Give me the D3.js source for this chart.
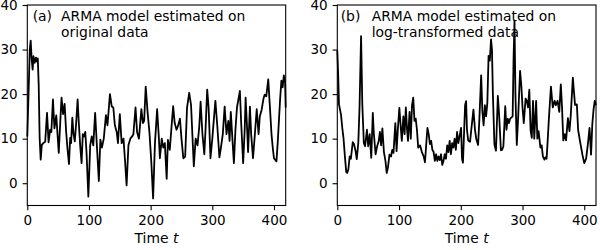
<!DOCTYPE html>
<html>
<head>
<meta charset="utf-8">
<script src="https://cdn.jsdelivr.net/npm/d3@7"></script>
<style>
  body { margin: 0; background: white; }
  svg { font-family: "DejaVu Sans", sans-serif; }
</style>
</head>
<body>
<div id="chart"></div>
<script>
// panel (a): ARMA model estimated on original data
const timeA = [0, 2, 4, 5.5, 7, 8.7, 10, 12, 14, 15.5, 17, 18.5, 20, 21.7, 23.5, 26, 29, 32, 34.5, 37, 39, 41.6, 44, 47, 49, 51, 53, 55.5, 58, 60.5, 63, 65, 67.6, 69.5, 71, 73, 75, 77, 79, 81.6, 83.5, 86, 88, 90, 92, 94, 96, 99, 102, 104.5, 107, 110, 113, 116, 118.5, 121, 124, 127.5, 130, 134, 137, 139.5, 142, 145, 147, 150, 153, 156, 158.5, 161, 164, 167, 170, 172, 175.5, 178, 181, 185, 187.5, 189.5, 192, 195, 198, 201, 204, 207, 210.5, 213, 215, 218, 220.5, 223, 226, 228, 231, 233.5, 236.5, 239, 242, 244, 247.5, 250, 253, 256, 259, 262.5, 265.5, 268.5, 270, 273, 276, 279, 281, 284, 287, 289, 291.7, 294, 297, 300, 302, 305, 308, 311.5, 314, 317, 320, 323, 326, 328, 330, 333, 335, 337.5, 340, 344.7, 347, 350, 352.5, 354, 356.5, 358, 361, 363, 366, 369, 372, 375, 377, 380, 383, 385, 387.5, 390.7, 393, 396, 398, 400, 404, 406, 410, 412, 414, 416, 418, 419];
const valueA = [10.5, 20, 30, 32, 28, 25.5, 28.5, 27, 28.2, 27.3, 28, 22, 10.2, 5.3, 8.6, 9, 9.3, 15.8, 9.2, 12, 11.5, 18.8, 12.3, 15.2, 11, 6.8, 12.5, 19.2, 15.5, 17.8, 11.5, 8, 4.3, 10.2, 9, 14.7, 11, 9.4, 13, 18.8, 13.5, 8, 4.5, 11, 10.5, 11.5, 7, -3, 8.5, 10.5, 8.5, 15.8, 8, 0.5, 9.8, 8, 10, 15.3, 13, 20, 17.2, 17, 13, 11.5, 9, 15.5, 9, 10, 5, -0.5, 8.5, 10, 10.5, 11, 17, 11.5, 10, 16.6, 13.5, 14, 21.7, 16, 11.5, 5, -3.4, 9, 16.6, 11, 5.6, 10, 8, 9, 1, 9.7, 7.5, 12, 17.3, 13.5, 12, 12.7, 14.5, 10, 5.6, 6, 16.9, 20.3, 17.6, 8.4, 3.8, 10, 8.5, 13, 18.3, 11, 6.5, 12, 21, 17, 5.6, 10, 13.5, 18.5, 13, 5.8, 8, 11, 17.2, 11, 14, 9.5, 16, 9, 4.5, 12, 17, 20.7, 13, 4.5, 12, 19.2, 12, 7, 17.2, 11, 5.6, 11, 16.6, 11, 15, 16.5, 19, 19.9, 19.5, 23.3, 18, 11, 8, 5.6, 4.9, 9, 19, 23, 21.5, 24.2, 22.5, 17];

// panel (b): ARMA model estimated on log-transformed data
const timeB = [0, 1.5, 2.7, 6, 8, 10, 12.5, 14.5, 16, 18, 20, 22, 25, 27, 29.5, 31.5, 34, 36, 38.5, 40.5, 43, 45, 48, 50, 52.5, 55, 57.5, 59, 62, 64.5, 67, 69, 71, 73, 75.5, 78, 80, 82, 84.5, 87, 89, 91, 94, 96, 98, 100.5, 102, 104.5, 107, 109, 111, 113, 114.5, 117, 119, 121, 123, 125, 127, 129, 131, 134, 137, 140, 142, 144.6, 146, 148, 150, 152, 154, 156, 158, 160, 162, 164, 166, 168, 170, 172, 174, 176, 178, 180, 182, 184, 186, 188, 190, 192, 194, 196, 198, 200.5, 202, 203.5, 205.5, 207, 208.6, 210, 212, 215, 217, 220.5, 223, 225, 228, 230, 233, 235, 237, 239, 241, 243, 245, 247, 249, 250.5, 252, 254.5, 257, 260, 262, 265, 267, 269, 272, 274, 276, 278, 280, 284, 285.5, 287, 288.5, 290.7, 293, 296, 298, 300, 302, 305, 307, 309, 311, 313, 315, 317, 319, 322, 324, 326, 329, 331, 333, 335.5, 337, 339, 340.5, 342.5, 346, 349, 352, 354, 356.8, 359.5, 362, 364, 366, 368.5, 370.5, 373.5, 376, 378, 381.5, 383, 385, 388, 390, 393, 397, 400, 403, 405.8, 408.5, 411, 413, 415, 417, 419];
const valueB = [29.8, 24, 17.7, 15.4, 12.5, 10.2, 5.7, 2.5, 2.3, 3.2, 6, 5.5, 9.2, 8.8, 7.3, 5.4, 9, 17, 33, 17.7, 9, 8.3, 12, 8.3, 11, 5.7, 15.8, 11.5, 6.5, 8.3, 9.4, 11.5, 8.5, 12.3, 7, 5, 2.3, 3.5, 6.4, 6, 7.5, 6.8, 13.5, 7.2, 12, 16.9, 14, 9.5, 15, 11, 17, 12, 9.5, 16, 10, 17.5, 19.2, 14, 14.5, 12, 8, 8.5, 7, 6, 4.7, 9.8, 12.4, 11, 8.8, 9.5, 7.5, 7, 5, 6.5, 5, 6, 5.2, 6.5, 4.1, 5, 6.5, 5.5, 8.5, 7, 9.5, 6.5, 9, 8, 10, 7.5, 11.5, 9, 10.5, 12.4, 5.5, 4.6, 12, 17.5, 18.4, 12, 9.6, 9.3, 12, 16.5, 12, 10, 8.6, 14, 24.2, 16, 13, 17.5, 15, 18, 28.6, 27.5, 32.3, 30, 20, 8.7, 7.3, 19.6, 15.5, 7.4, 7.5, 8.3, 17.3, 12, 14.5, 13.5, 14.5, 15, 28, 36.5, 20, 8.6, 15, 25.2, 22, 17, 13.5, 19, 18.5, 17, 21, 12, 10.2, 18.5, 10, 18.5, 10, 11.7, 8, 8.5, 6, 5.3, 5.8, 5.5, 9, 14, 21.7, 17, 18.5, 17.5, 18.5, 16, 22.2, 17, 9.6, 11, 9.6, 14.6, 11.7, 15, 23.7, 21, 17.6, 17.7, 12, 9.5, 6.4, 4.5, 5.5, 8.7, 12.4, 6.4, 13.2, 16.5, 18.5, 17.5];

const xTicks = [0, 100, 200, 300, 400];
const yTicks = [0, 10, 20, 30, 40];

const panels = [
  { tag: "(a)", lines: ["ARMA model estimated on", "original data"], t: timeA, v: valueA, left: 27.3, right: 285.7, tagX: 32.7, textX: 61 },
  { tag: "(b)", lines: ["ARMA model estimated on", "log-transformed data"], t: timeB, v: valueB, left: 337.3, right: 596, tagX: 340.7, textX: 371.7 }
];

let w = 600;
let h = 250;
let plotTop = 5;
let plotBottom = 205.5;

const svg = d3.select("#chart")
              .append("svg")
              .attr("width", w)
              .attr("height", h)
              .style("background-color", "white");

panels.forEach((p) => {
  const xScale = d3.scaleLinear()
                   .domain([0, 419])
                   .range([p.left, p.right]);
  const yScale = d3.scaleLinear()
                   .domain([-5, 40])
                   .range([plotBottom, plotTop]);

  const xAxis = d3.axisBottom(xScale)
                  .tickValues(xTicks)
                  .tickSize(4.7)
                  .tickSizeOuter(0)
                  .tickPadding(5.5);
  const yAxis = d3.axisLeft(yScale)
                  .tickValues(yTicks)
                  .tickSize(4.7)
                  .tickSizeOuter(0)
                  .tickPadding(4.9);

  const gx = svg.append("g")
     .attr("transform", "translate(0," + plotBottom + ")")
     .call(xAxis);
  const gy = svg.append("g")
     .attr("transform", "translate(" + p.left + ",0)")
     .call(yAxis);

  [gx, gy].forEach((g) => {
    g.select(".domain").remove();
    g.selectAll("line").attr("stroke", "#000").attr("stroke-width", 1.1);
    g.selectAll("text")
     .attr("fill", "#000")
     .style("font-size", "13.5px")
     .style("font-family", "DejaVu Sans");
  });

  const line = d3.line()
                 .x((d, i) => xScale(p.t[i]))
                 .y((d) => yScale(d));

  svg.append("path")
     .datum(p.v)
     .attr("d", line)
     .attr("fill", "none")
     .attr("stroke", "#000")
     .attr("stroke-width", 1.8)
     .attr("stroke-linejoin", "round");

  svg.append("rect")
     .attr("x", p.left)
     .attr("y", plotTop)
     .attr("width", p.right - p.left)
     .attr("height", plotBottom - plotTop)
     .attr("fill", "none")
     .attr("stroke", "#000")
     .attr("stroke-width", 1.1);

  svg.append("text")
     .attr("x", p.tagX)
     .attr("y", 20.7)
     .style("font-size", "13.9px")
     .text(p.tag);

  p.lines.forEach((s, i) => {
    svg.append("text")
       .attr("x", p.textX)
       .attr("y", 20.7 + i * 16)
       .style("font-size", "13.9px")
       .text(s);
  });

  const xLabel = svg.append("text")
     .attr("x", (p.left + p.right) / 2)
     .attr("y", 243.3)
     .attr("text-anchor", "middle")
     .style("font-size", "13.9px");
  xLabel.append("tspan").text("Time ");
  xLabel.append("tspan").style("font-style", "italic").text("t");
});
</script>
</body>
</html>
